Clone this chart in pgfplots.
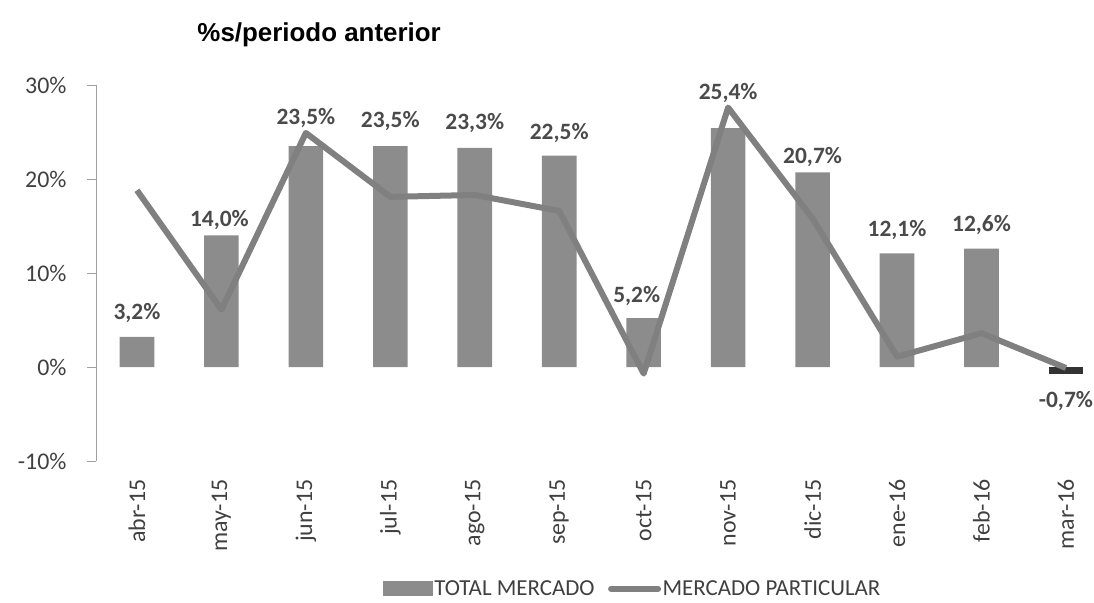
\documentclass[border=0pt]{standalone}
\usepackage{pgfplots}
\pgfplotsset{compat=1.18}
\usepackage{pgfplotstable}
\usepackage{fontspec}
\setmainfont{Carlito}
\newfontfamily\titlefont{Liberation Sans}
\definecolor{barcol}{HTML}{8C8C8C}
\definecolor{linecol}{HTML}{808080}
\definecolor{negcol}{HTML}{333333}
\definecolor{lblcol}{HTML}{4A4A4A}
\definecolor{tickcol}{HTML}{404040}
\definecolor{axiscol}{HTML}{A0A0A0}

\pgfplotstableread{
x particular
0 18.8
1 6.1
2 24.9
3 18.1
4 18.3
5 16.6
6 -0.7
7 27.6
8 15.8
9 1.1
10 3.6
11 -0.1
}\linetable

\pgfplotstableread{
x total dy dx
0 3.2 9 0
1 14.0 1 -2
2 23.5 13 0
3 23.5 10 0
4 23.3 10 0
5 22.5 8 0
6 5.2 7 -7
7 25.4 20 0
8 20.7 1 0
9 12.1 8 0
10 12.6 9 0
}\postable

\pgfplotstableread{
x total
11 -0.7
}\negtable

\begin{document}
\begin{tikzpicture}
\path[use as bounding box] (-96bp,-142bp) rectangle (998bp,461bp);
\begin{axis}[
  at={(0,0)}, anchor=south west,
  scale only axis,
  width=997.8bp, height=376bp,
  xmin=-0.485, xmax=11.33,
  ymin=-10, ymax=30,
  clip=false,
  axis lines*=left,
  x axis line style={draw=none},
  y axis line style={draw=axiscol, line width=0.8bp},
  ytick={-10,0,10,20,30},
  yticklabels={-10\%,0\%,10\%,20\%,30\%},
  xtick={0,1,2,3,4,5,6,7,8,9,10,11},
  xticklabels={abr-15,may-15,jun-15,jul-15,ago-15,sep-15,oct-15,nov-15,dic-15,ene-16,feb-16,mar-16},
  major x tick style={draw=none},
  major y tick style={draw=axiscol, line width=0.8bp},
  tick align=outside,
  major tick length=9bp,
  yticklabel style={font=\fontsize{24}{28}\selectfont, text=tickcol, xshift=-17bp},
  xticklabel style={font=\fontsize{24}{28}\selectfont, text=tickcol, rotate=90, anchor=east, xshift=-6bp},
  /pgf/number format/assume math mode=true,
  legend style={draw=none, at={(0.5375,-0.340)}, anchor=center,
    font=\fontsize{23}{26}\selectfont, text=tickcol,
    legend columns=2, /tikz/every even column/.append style={column sep=12bp},
    nodes={inner sep=1.5bp}, inner sep=0pt},
]
\addplot[ybar, bar shift=0pt, bar width=0.41, fill=barcol, draw=none,
  visualization depends on={\thisrow{dy} \as \dy},
  visualization depends on={\thisrow{dx} \as \dx},
  nodes near coords={\pgfmathprintnumber[fixed,fixed zerofill,precision=1,use comma]{\pgfplotspointmeta}\%},
  every node near coord/.append style={font=\bfseries\fontsize{23.5}{26}\selectfont, text=lblcol, inner sep=5bp, yshift=\dy bp, xshift=\dx bp},
  legend image code/.code={\fill[barcol] (0bp,-7.5bp) rectangle (50bp,7.5bp);}
] table[x=x,y=total] {\postable};
\addlegendentry{TOTAL MERCADO}
\addplot[ybar, bar shift=0pt, bar width=0.41, fill=negcol, draw=none, forget plot,
  nodes near coords={\pgfmathprintnumber[fixed,fixed zerofill,precision=1,use comma]{\pgfplotspointmeta}\%},
  every node near coord/.append style={font=\bfseries\fontsize{23.5}{26}\selectfont, text=lblcol, inner sep=8bp, yshift=-10bp},
] table[x=x,y=total] {\negtable};
\addplot[color=linecol, line width=6bp, line join=round, mark=none,
  legend image code/.code={\draw[linecol, line width=6bp, line cap=round] (3bp,0bp) -- (50bp,0bp);}
] table[x=x,y=particular] {\linetable};
\addlegendentry{MERCADO PARTICULAR}
\node[font=\titlefont\bfseries\fontsize{26}{30}\selectfont, anchor=center] at (axis description cs:0.2236,1.133) {\%s/periodo anterior};
\end{axis}
\end{tikzpicture}
\end{document}
